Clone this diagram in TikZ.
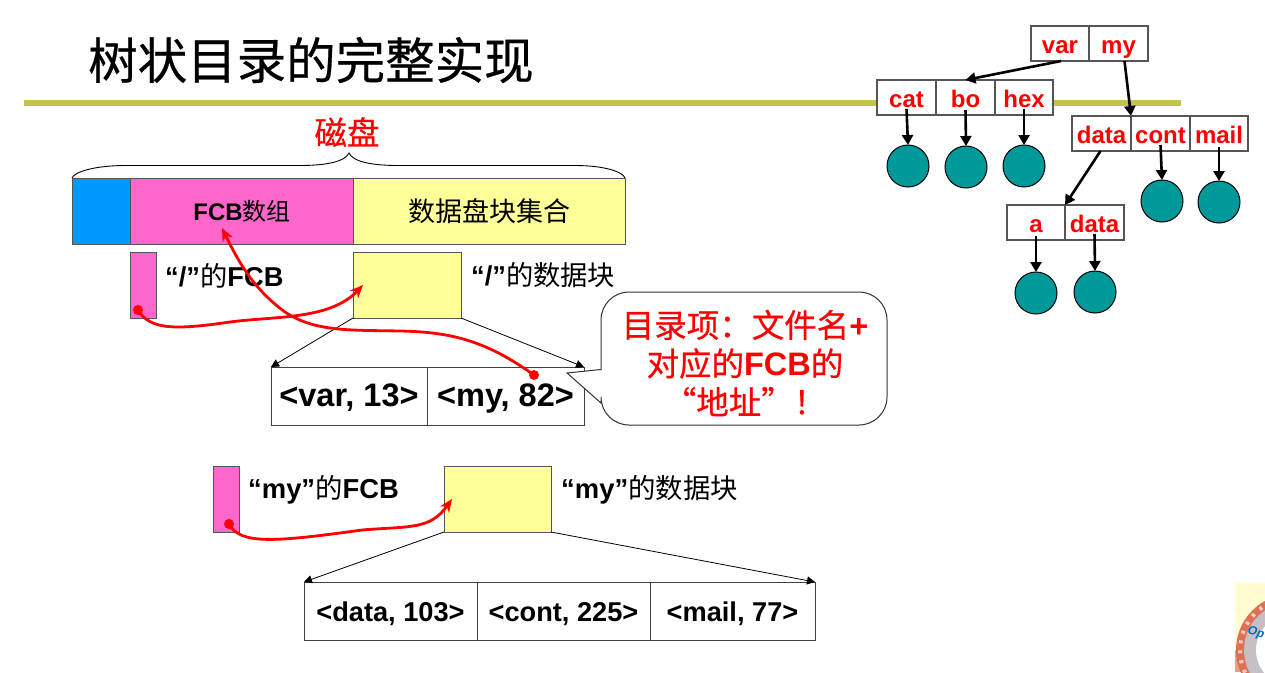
\documentclass[tikz,border=0pt]{standalone}
\usepackage{fontspec}
\usetikzlibrary{arrows.meta,calc}
\setmainfont{Liberation Sans}[BoldFont={Liberation Sans Bold}]
\newfontfamily\cjk{Noto Sans CJK SC}
\newfontfamily\cjkh[FakeBold=0.5]{Noto Sans CJK SC}
\newcommand{\zh}[1]{{\cjk #1}}
\newcommand{\zhh}[1]{{\cjkh #1}}
\newcommand{\fsz}[1]{\fontsize{#1}{#1}\selectfont}
\definecolor{rulec}{HTML}{C4C44C}
\definecolor{pinkc}{HTML}{FF66CC}
\definecolor{yelc}{HTML}{FFFF99}
\definecolor{bluec}{HTML}{0099FF}
\definecolor{tealc}{HTML}{009999}
\definecolor{gridc}{HTML}{555555}
\tikzset{
  blockbox/.style={draw=gridc,line width=1pt,inner sep=0pt,outer sep=0pt,anchor=north west},
  cell/.style={draw=gridc,line width=1.2pt,fill=white,inner sep=0pt,outer sep=0pt,anchor=north west,minimum height=35pt,font=\fsz{24}\bfseries,text=red,text height=22pt,text depth=3pt},
  entry/.style={draw=black!75,line width=1pt,fill=white,inner sep=0pt,outer sep=0pt,anchor=north west,font=\bfseries,minimum height=58pt},
  bigentry/.style={entry,font=\fsz{32.5}\bfseries,text height=26pt,text depth=5pt},
  smallentry/.style={entry,font=\fsz{27.2}\bfseries,text height=24pt,text depth=4pt},
  leaf/.style={circle,draw=black,line width=1pt,fill=tealc,minimum size=42pt,inner sep=0pt,outer sep=0pt},
  lbl/.style={anchor=west,inner sep=0pt,font=\bfseries},
  tarrow/.style={draw=black,line width=2.6pt,-{Triangle[length=10pt,width=11pt]}},
  thin arrow/.style={draw=black,line width=0.8pt,-{Triangle[length=8pt,width=8pt]}},
  redcurve/.style={draw=red,line width=2.8pt,-{Stealth[length=13pt,width=11pt]}},
  reddot/.style={circle,fill=red,minimum size=10pt,inner sep=0pt,outer sep=0pt},
}
\begin{document}
\begin{tikzpicture}[x=1pt,y=-1pt]
\useasboundingbox (0,0) rectangle (1265,672);
\fill[white] (0,0) rectangle (1265,672);

% title and rule
\node[anchor=west,inner sep=0pt] (title) at (88,60) {\fsz{49.5}\zhh{树状目录的完整实现}};
\coordinate (ruleL) at (24,103);
\coordinate (ruleR) at (1181,103);
\draw[rulec,line width=6pt] (ruleL) -- (ruleR);

% logo fragment
\begin{scope}
\clip (1235,583) rectangle (1265,672);
\fill[yellow!18] (1235,583) rectangle (1265,672);
\fill[brown!45!pink] (1235,650) rectangle (1265,672);
\fill[red!40!brown!80] (1292,650) circle (56);
\draw[red!20!white,line width=4pt,dash pattern=on 3pt off 7pt] (1292,650) circle (52);
\fill[violet!12!gray!45] (1292,650) circle (48);
\fill[white] (1292,650) circle (36);
\node[text=tealc!70!blue,rotate=-15,inner sep=0pt] (logotext) at (1256,633) {\fsz{12}\bfseries\itshape Op};
\end{scope}

% disk
\node[blockbox,fill=bluec,minimum width=58pt,minimum height=66pt] (boot) at (72,178) {};
\node[blockbox,fill=pinkc,minimum width=223pt,minimum height=66pt] (fcbarr) at (130,178) {};
\node[blockbox,fill=yelc,minimum width=272pt,minimum height=66pt] (datablk) at (353,178) {};
\node[inner sep=0pt] (fcbtxt) at (242,211) {\fsz{24}\bfseries FCB\zh{\mdseries 数组}};
\node[inner sep=0pt] (datatxt) at (489,211) {\fsz{27}\zh{数据盘块集合}};
\coordinate (braceTip) at (349,153);
\draw[black,line width=0.9pt]
  (boot.north west) .. controls (74,172) and (95,165.5) .. (125,165.5) -- (300,165.5)
  .. controls (325,165.5) and (345,162) .. (braceTip)
  .. controls (353,162) and (373,165.5) .. (398,165.5) -- (575,165.5)
  .. controls (605,165.5) and (623,172) .. (datablk.north east);
\node[text=red,inner sep=0pt] (disk) at (347,132) {\fsz{32.5}\zhh{磁盘}};

% root
\node[blockbox,fill=pinkc,minimum width=26pt,minimum height=66pt] (rootfcb) at (130,252) {};
\node[blockbox,fill=yelc,minimum width=108pt,minimum height=66pt] (rootdata) at (353,252) {};
\node[lbl] (rootfcbl) at (165,276) {\fsz{27.3}“/”\zh{\mdseries 的}FCB};
\node[lbl] (rootdatal) at (471,275) {\fsz{27.3}“/”\zh{\mdseries 的数据块}};
\node[bigentry,minimum width=156pt] (varE) at (271,367) {<var, 13>};
\node[bigentry,minimum width=157pt] (myE) at (427,367) {<my, 82>};
\draw[thin arrow] (rootdata.south west) -- (varE.north west);
\draw[thin arrow] (rootdata.south east) -- (myE.north east);

% callout
\draw[draw=black!80,line width=1pt,fill=white]
  (567,373) -- (601,369.5) -- (601,320)
  arc[start angle=180,end angle=270,radius=28] -- (859,292)
  arc[start angle=-90,end angle=0,radius=28] -- (887,397)
  arc[start angle=0,end angle=90,radius=28] -- (629,425)
  arc[start angle=90,end angle=180,radius=28] -- (601,403) -- cycle;
\node[text=red,align=center,inner sep=0pt,font=\fsz{32.5}] (note) at (745,363)
  {\zhh{目录项：文件名}\textbf{+}\\[6pt]\zhh{对应的}\textbf{FCB}\zhh{的}\\[6pt]\zhh{“地址”！}};

% my
\node[blockbox,fill=pinkc,minimum width=26pt,minimum height=66pt] (myfcb) at (213,466) {};
\node[blockbox,fill=yelc,minimum width=107pt,minimum height=66pt] (mydata) at (444,466) {};
\node[lbl] (myfcbl) at (248,490) {\fsz{27.4}“my”\zh{\mdseries 的}FCB};
\node[lbl] (mydatal) at (561,490) {\fsz{27.4}“my”\zh{\mdseries 的数据块}};
\node[smallentry,minimum width=173pt] (dataE) at (304,582) {<data, 103>};
\node[smallentry,minimum width=173pt] (contE) at (477,582) {<cont, 225>};
\node[smallentry,minimum width=165pt] (mailE) at (650,582) {<mail, 77>};
\draw[thin arrow] (mydata.south west) -- (dataE.north west);
\draw[thin arrow] (mydata.south east) -- (mailE.north east);

% red curves
\node[reddot] (d1) at (138,310) {};
\coordinate (t1) at (363,285);
\draw[redcurve] (d1.center) .. controls (150,330) and (175,330) .. (230,322)
  .. controls (275,316) and (330,320) .. (t1);
\node[reddot] (d2) at (534,375) {};
\coordinate (t2) at (222,228);
\draw[redcurve] (d2.center) .. controls (485,340) and (450,332) .. (400,331)
  .. controls (350,330) and (315,332) .. (285,312)
  .. controls (255,290) and (240,265) .. (t2);
\node[reddot] (d3) at (229,524) {};
\coordinate (t3) at (452,499);
\draw[redcurve] (d3.center) .. controls (240,545) and (275,542) .. (362,530)
  .. controls (410,526) and (430,530) .. (t3);

% tree
\node[cell,minimum width=58pt] (var) at (1031,26) {var};
\node[cell,minimum width=59pt] (my) at (1089,26) {my};
\node[cell,minimum width=59pt] (cat) at (877,80) {cat};
\node[cell,minimum width=59pt] (bo) at (936,80) {bo};
\node[cell,minimum width=58pt] (hex) at (995,80) {hex};
\node[cell,minimum width=59pt] (dataA) at (1072,116) {data};
\node[cell,minimum width=59pt] (cont) at (1131,116) {cont};
\node[cell,minimum width=58pt] (mail) at (1190,116) {mail};
\node[cell,minimum width=58pt] (aa) at (1007,205) {a};
\node[cell,minimum width=59pt] (dataB) at (1065,205) {data};
\node[leaf] (c1) at (908,166) {};
\node[leaf] (c2) at (966,167) {};
\node[leaf] (c3) at (1024,166) {};
\node[leaf] (c4) at (1162,201) {};
\node[leaf] (c5) at (1219,202) {};
\node[leaf] (c6) at (1036,293) {};
\node[leaf] (c7) at (1095,292) {};
\draw[tarrow] ([xshift=1pt]var.south) -- (bo.north);
\draw[tarrow] ([xshift=6pt]my.south) -- (dataA.north east);
\draw[tarrow] ([yshift=6pt]cat.south) -- (c1.north);
\draw[tarrow] ([yshift=5pt]bo.south) -- (c2.north);
\draw[tarrow] ([yshift=6pt]hex.south) -- (c3.north);
\draw[tarrow] ([xshift=-1pt]dataA.south) -- (aa.north east);
\draw[tarrow] ([yshift=6pt]cont.south) -- (c4.north);
\draw[tarrow] ([yshift=4pt]mail.south) -- (c5.north);
\draw[tarrow] ([yshift=4pt]aa.south) -- (c6.north);
\draw[tarrow] ([yshift=6pt]dataB.south) -- (c7.north);
\end{tikzpicture}
\end{document}
